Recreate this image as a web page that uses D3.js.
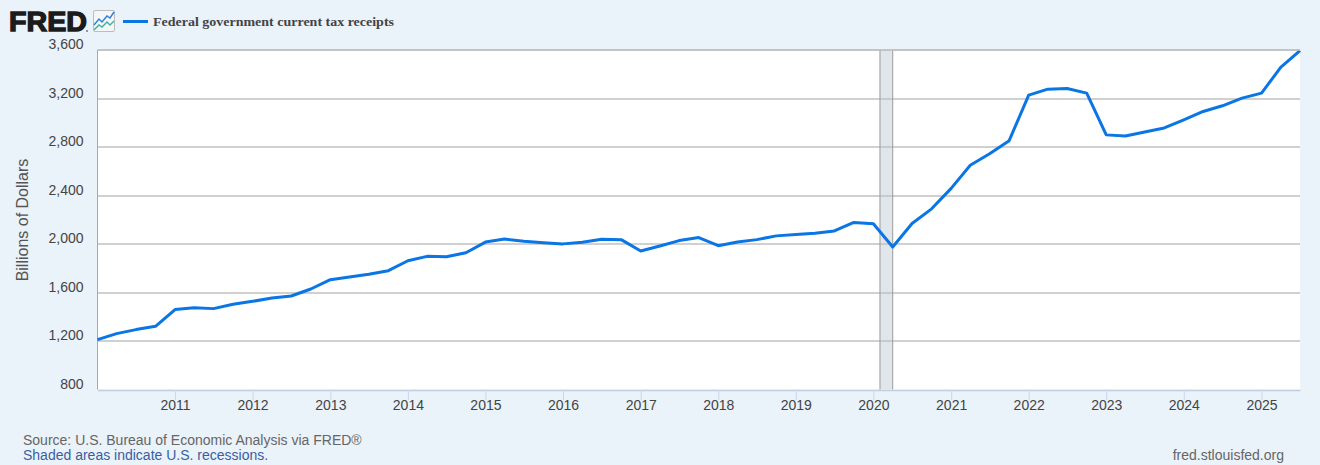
<!DOCTYPE html>
<html><head><meta charset="utf-8">
<script src="https://cdn.jsdelivr.net/npm/d3@7"></script>
<style>html,body{margin:0;padding:0;background:#eaf2fa;overflow:hidden}svg{display:block}text{font-family:"Liberation Sans",Arial,sans-serif}</style>
</head><body><svg id="c" width="1320" height="465"></svg>
<script>
const startYear = 2010;
const receipts = [
 1211,1261,1294,1321,
 1459,1475,1467,1503,
 1527,1555,1571,1629,
 1706,1728,1750,1780,
 1862,1898,1895,1928,
 2016,2041,2022,2011,
 2001,2014,2039,2036,
 1942,1983,2028,2053,
 1986,2017,2036,2067,
 2078,2089,2108,2178,
 2167,1975,2169,2290,
 2459,2650,2744,2852,
 3228,3277,3283,3244,
 2900,2891,2924,2957,
 3024,3093,3140,3203,
 3244,3457,3595];
const yTicks = [800,1200,1600,2000,2400,2800,3200,3600];
const xTickYears = d3.range(2011,2026);
const recession = [new Date(2020,1,1), new Date(2020,3,1)];
const seriesName = "Federal government current tax receipts";
const yTitle = "Billions of Dollars";
const sourceLine = "Source: U.S. Bureau of Economic Analysis via FRED®";
const noteLine = "Shaded areas indicate U.S. recessions.";
const siteLine = "fred.stlouisfed.org";

const dates = receipts.map((_,i)=>new Date(startYear+Math.floor(i/4),(i%4)*3,1));
const L=97.5,R=1300,T=50,B=389.5;
const x=d3.scaleTime().domain([dates[0],dates[dates.length-1]]).range([L,R]);
const y=d3.scaleLinear().domain([800,3600]).range([B,T]);
const svg=d3.select("#c");
svg.append("rect").attr("x",L).attr("y",T).attr("width",R-L).attr("height",B-T).attr("fill","#fff");

// recession band
svg.append("rect").attr("x",x(recession[0])).attr("y",T).attr("width",x(recession[1])-x(recession[0])).attr("height",B-T)
  .attr("fill","#e1e6ea");

// grid
svg.append("g").selectAll("line").data(yTicks.filter(d=>d>800)).join("line")
 .attr("x1",L).attr("x2",R).attr("y1",d=>Math.round(y(d))).attr("y2",d=>Math.round(y(d)))
 .attr("stroke","#c0c0c0").attr("stroke-width",1.6);
recession.forEach(d=>svg.append("line").attr("x1",x(d)).attr("x2",x(d)).attr("y1",T).attr("y2",B).attr("stroke","#9a9a9a").attr("stroke-width",1));

// x axis
const xAxis=svg.append("g").attr("transform",`translate(0,${B+0.5})`)
 .call(d3.axisBottom(x).tickValues(xTickYears.map(v=>new Date(v,0,1))).tickFormat(d3.timeFormat("%Y")).tickSize(10).tickSizeOuter(0).tickPadding(0));
xAxis.select(".domain").attr("stroke","#c0cfe0").attr("stroke-width",1.4);
xAxis.selectAll(".tick line").attr("stroke","#ccd6eb");
xAxis.selectAll("text").attr("font-size",14).attr("fill","#444").style("font-family",'"Liberation Sans",Arial,sans-serif');

// y axis
const yAxis=svg.append("g").attr("transform",`translate(${L},0)`)
 .call(d3.axisLeft(y).tickValues(yTicks).tickFormat(d3.format(",")).tickSize(0).tickPadding(14));
yAxis.select(".domain").remove();
yAxis.selectAll("text").attr("font-size",14).attr("fill","#444").attr("dy","-0.1em").style("font-family",'"Liberation Sans",Arial,sans-serif');
svg.append("line").attr("x1",L).attr("x2",L).attr("y1",T).attr("y2",B).attr("stroke","#a8a8a8").attr("stroke-width",1);

svg.append("text").attr("transform",`translate(28,220) rotate(-90)`).attr("text-anchor","middle")
 .attr("font-size",16).attr("fill","#555").text(yTitle);

// line
svg.append("path").datum(receipts).attr("fill","none").attr("stroke","#0a75e4").attr("stroke-width",3).attr("stroke-linejoin","round")
 .attr("d",d3.line().x((d,i)=>x(dates[i])).y(d=>y(d)));

// top frame line
svg.append("line").attr("x1",L).attr("x2",R).attr("y1",T).attr("y2",T).attr("stroke","#c0c0c0").attr("stroke-width",1.6);

// header
svg.append("text").attr("x",9).attr("y",31.3).attr("font-size",27).attr("font-weight",700).attr("fill","#1b1b1b")
 .attr("stroke","#1b1b1b").attr("stroke-width",1.3).attr("textLength",78).attr("lengthAdjust","spacingAndGlyphs").text("FRED");
svg.append("circle").attr("cx",87).attr("cy",31).attr("r",1).attr("fill","#777");
const ic=svg.append("g").attr("transform","translate(93,10)");
ic.append("rect").attr("x",0.5).attr("y",0.5).attr("width",21).attr("height",21).attr("rx",1.5).attr("fill","#f4f7fa").attr("stroke","#bcbcbc");
ic.append("polyline").attr("points","1,15 6,9 9,12 14,6 17,8 21,2").attr("fill","none").attr("stroke","#2d7fd8").attr("stroke-width",1.4);
ic.append("polyline").attr("points","1,20 6,15 9,17 14,12 17,15 21,11").attr("fill","none").attr("stroke","#3fb39a").attr("stroke-width",1.4);

svg.append("line").attr("x1",123).attr("x2",148).attr("y1",21.5).attr("y2",21.5).attr("stroke","#0a75e4").attr("stroke-width",3);
svg.append("text").attr("x",153).attr("y",25.5).attr("font-size",13.4).attr("font-weight",700).attr("fill","#444")
 .style("font-family",'"Liberation Serif","Times New Roman",serif').attr("textLength",241).attr("lengthAdjust","spacingAndGlyphs").text(seriesName);

// footer
svg.append("text").attr("x",23).attr("y",445).attr("font-size",14).attr("fill","#666").text(sourceLine);
svg.append("text").attr("x",23).attr("y",460).attr("font-size",14).attr("fill","#3a5f9f").text(noteLine);
svg.append("text").attr("x",1284).attr("y",460).attr("text-anchor","end").attr("font-size",14).attr("fill","#666").text(siteLine);
</script></body></html>
